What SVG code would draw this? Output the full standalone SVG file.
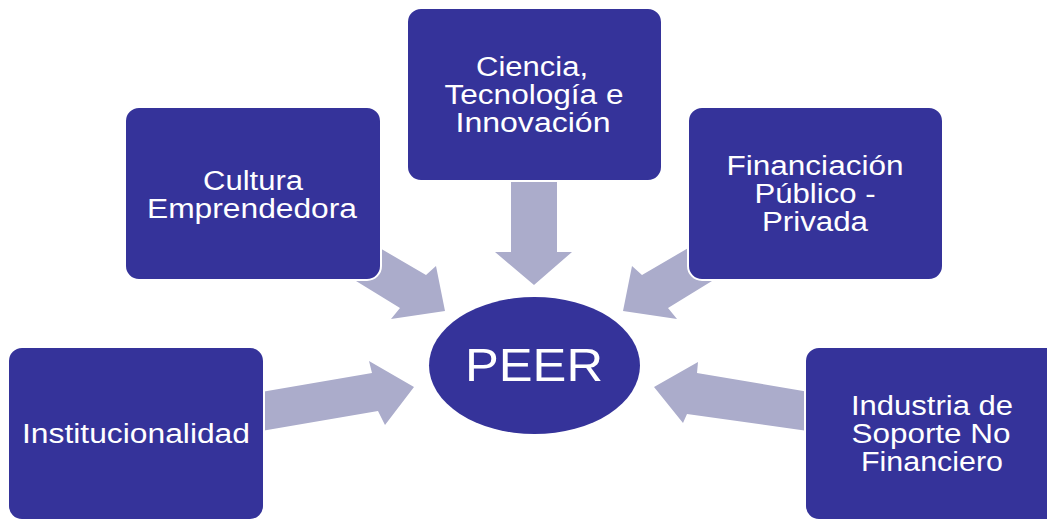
<svg xmlns="http://www.w3.org/2000/svg" width="1047" height="520" viewBox="0 0 1047 520">
<style>
.box{fill:#35339a;stroke:#ffffff;stroke-width:2}
.arr{fill:#abaccb}
.t{fill:#ffffff;font-family:"Liberation Sans",Arial,sans-serif;font-size:27px;text-anchor:middle}
.big{font-size:47px}
</style>
<rect width="1047" height="520" fill="#ffffff"/>
<g id="connectors">
<polygon class="arr" points="366,240 426,275 436,266 445,311 391,319 400,308 343,273"/>
<polygon class="arr" points="511,175 557,175 557,252 572,252 534,285 495,252 511,252"/>
<polygon class="arr" points="702,240 642,275 632,266 623,311 677,319 668,308 725,273"/>
<polygon class="arr" points="250,394 372,373 369,361 414,387 385,425 378,411 250,433"/>
<polygon class="arr" points="815,393 697,373 698,362 654,387 683,423 687,414 815,432"/>
</g>
<g id="peer">
<ellipse cx="534.5" cy="365.5" rx="105.5" ry="68.5" fill="#35339a"/>
<text class="t big" x="534" y="381" textLength="138" lengthAdjust="spacingAndGlyphs">PEER</text>
</g>
<g id="cultura">
<rect class="box" x="125" y="107" width="256" height="173" rx="14"/>
<text class="t" x="253" y="190" textLength="100" lengthAdjust="spacingAndGlyphs">Cultura</text>
<text class="t" x="252" y="218" textLength="210" lengthAdjust="spacingAndGlyphs">Emprendedora</text>
</g>
<g id="ciencia">
<rect class="box" x="407" y="8" width="255" height="173" rx="14"/>
<text class="t" x="532" y="76" textLength="112" lengthAdjust="spacingAndGlyphs">Ciencia,</text>
<text class="t" x="534" y="104" textLength="179" lengthAdjust="spacingAndGlyphs">Tecnología e</text>
<text class="t" x="533" y="132" textLength="155" lengthAdjust="spacingAndGlyphs">Innovación</text>
</g>
<g id="financiacion">
<rect class="box" x="688" y="107" width="255" height="173" rx="14"/>
<text class="t" x="815" y="175" textLength="177" lengthAdjust="spacingAndGlyphs">Financiación</text>
<text class="t" x="815" y="203" textLength="121" lengthAdjust="spacingAndGlyphs">Público -</text>
<text class="t" x="815" y="231" textLength="106" lengthAdjust="spacingAndGlyphs">Privada</text>
</g>
<g id="institucionalidad">
<rect class="box" x="8" y="347" width="256" height="173" rx="14"/>
<text class="t" x="136" y="443" textLength="228" lengthAdjust="spacingAndGlyphs">Institucionalidad</text>
</g>
<g id="industria">
<rect class="box" x="805" y="347" width="256" height="173" rx="14"/>
<text class="t" x="932" y="415" textLength="162" lengthAdjust="spacingAndGlyphs">Industria de</text>
<text class="t" x="931" y="443" textLength="159" lengthAdjust="spacingAndGlyphs">Soporte No</text>
<text class="t" x="932" y="471" textLength="142" lengthAdjust="spacingAndGlyphs">Financiero</text>
</g>
</svg>
